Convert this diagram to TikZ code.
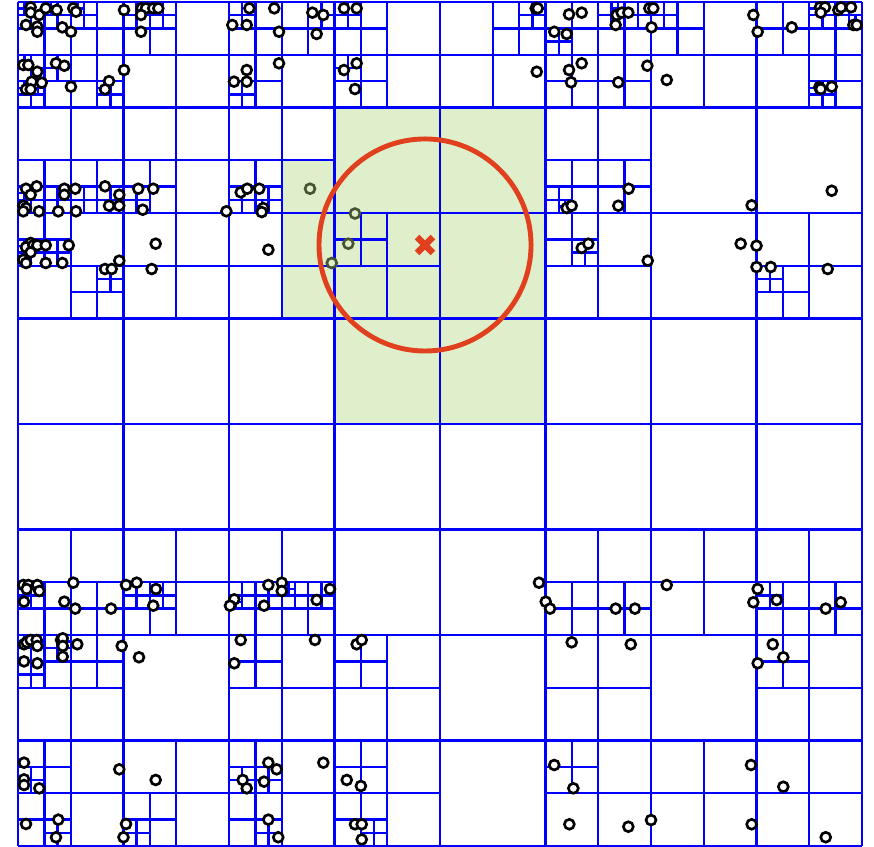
\documentclass[tikz,border=0pt]{standalone}
\definecolor{treeblue}{RGB}{0,0,255}
\definecolor{hitgreen}{RGB}{223,239,203}
\definecolor{hitolive}{RGB}{70,84,52}
\definecolor{queryred}{RGB}{224,64,29}

\begin{document}
\begin{tikzpicture}[
  x=1.4cm, y=-1.4cm,
  cellline/.style={draw=treeblue, line width=0.9pt},
  datapt/.style={draw=black, fill=white, line width=1pt},
  hitpt/.style={draw=hitolive, fill=hitgreen, line width=1pt},
  hitcell/.style={fill=hitgreen},
  queryring/.style={draw=queryred, line width=1.85pt},
  querycross/.style={draw=queryred, line width=2.5pt}
]
\useasboundingbox (-0.1706,-0.019) rectangle (8.1137,8.0);

%% ============ cells hit by the query disk ============
\fill[hitcell] (2.5,1.5) -- (3,1.5) -- (3,1) -- (5,1) -- (5,4) -- (3,4) -- (3,3) -- (2.5,3) -- cycle;

%% ============ depth-3 grid ============
\foreach \i in {0,...,8} {
  \draw[cellline] (\i,0) -- (\i,8);
  \draw[cellline] (0,\i) -- (8,\i);
}

%% ============ subdivided cells (x/y/size) ============
\foreach \x/\y/\s in {
  % row 0
  0/0/1, 1/0/1, 2/0/1, 3/0/1, 4/0/1, 5/0/1, 6/0/1, 7/0/1,
  0/0/0.5, 0.5/0/0.5, 0/0.5/0.5, 0.5/0.5/0.5, 1/0/0.5,
  2/0/0.5, 2.5/0/0.5, 2/0.5/0.5, 3/0/0.5, 3/0.5/0.5, 4.5/0/0.5,
  5/0/0.5, 5.5/0/0.5, 5/0.5/0.5, 5.5/0.5/0.5, 6/0/0.5,
  7/0/0.5, 7.5/0/0.5, 7.5/0.5/0.5,
  0/0/0.25, 0.25/0/0.25, 0.5/0/0.25, 0/0.5/0.25, 0.25/0.5/0.25, 0/0.75/0.25, 0.75/0.75/0.25,
  1/0/0.25, 1.25/0/0.25, 2/0/0.25, 2.75/0/0.25, 2/0.75/0.25, 3/0/0.25, 3/0.5/0.25,
  4.75/0/0.25, 5/0.25/0.25, 5.5/0/0.25, 5.75/0/0.25, 6/0/0.25,
  7.5/0/0.25, 7.75/0/0.25, 7.5/0.75/0.25,
  0/0/0.125, 0.25/0/0.125, 0.5/0/0.125, 0/0.5/0.125, 0/0.75/0.125, 0.125/0.75/0.125,
  0.75/0.75/0.125, 1.125/0/0.125, 1.25/0/0.125, 4.875/0/0.125, 5.625/0/0.125,
  7.5/0/0.125, 7.75/0/0.125, 7.875/0.125/0.125, 7.5/0.75/0.125,
  % row 1
  0/1/1, 1/1/1, 2/1/1, 5/1/1,
  0/1.5/0.5, 0.5/1.5/0.5, 1/1.5/0.5, 2/1.5/0.5, 5/1.5/0.5, 5.5/1.5/0.5,
  0/1.75/0.25, 0.25/1.75/0.25, 0.5/1.75/0.25, 0.75/1.75/0.25, 1/1.75/0.25,
  2/1.75/0.25, 2.25/1.75/0.25, 5/1.75/0.25,
  0/1.75/0.125, 0/1.875/0.125, 0.375/1.75/0.125, 2.25/1.875/0.125, 5.125/1.875/0.125,
  % row 2
  0/2/1, 1/2/1, 2/2/1, 3/2/1, 5/2/1, 7/2/1,
  0/2/0.5, 0.5/2.5/0.5, 3/2/0.5, 5/2/0.5, 7/2.5/0.5,
  0/2.25/0.25, 0.25/2.25/0.25, 0.75/2.5/0.25, 5.25/2.25/0.25, 7/2.5/0.25,
  0/2.25/0.125, 0.125/2.25/0.125, 0/2.375/0.125,
  % row 5
  0/5/1, 1/5/1, 2/5/1, 5/5/1, 6/5/1, 7/5/1,
  0/5.5/0.5, 0.5/5.5/0.5, 1/5.5/0.5, 2/5.5/0.5, 2.5/5.5/0.5,
  5/5.5/0.5, 5.5/5.5/0.5, 7/5.5/0.5, 7.5/5.5/0.5,
  0/5.5/0.25, 1/5.5/0.25, 1.25/5.5/0.25, 2/5.5/0.25, 2.25/5.5/0.25,
  2.5/5.5/0.25, 2.75/5.5/0.25, 7/5.5/0.25,
  0/5.5/0.125, 0.125/5.5/0.125, 2/5.625/0.125, 2.5/5.5/0.125,
  % row 6
  0/6/1, 2/6/1, 3/6/1, 5/6/1, 7/6/1,
  0/6/0.5, 0.5/6/0.5, 2/6/0.5, 3/6/0.5, 7/6/0.5,
  0/6/0.25, 0.25/6/0.25, 0/6.25/0.25,
  0/6/0.125, 0.125/6/0.125, 0.375/6/0.125,
  % row 7
  0/7/1, 1/7/1, 2/7/1, 3/7/1, 5/7/1, 6/7/1, 7/7/1,
  0/7/0.5, 0/7.5/0.5, 1/7.5/0.5, 2/7/0.5, 2/7.5/0.5, 3/7/0.5, 3/7.5/0.5, 5/7/0.5,
  0/7.25/0.25, 0.25/7.75/0.25, 1/7.75/0.25, 2/7.25/0.25, 2.25/7.25/0.25,
  2.25/7.75/0.25, 3.25/7.75/0.25}
  \draw[cellline] (\x+\s/2,\y) -- ++(0,\s) (\x,\y+\s/2) -- ++(\s,0);

%% ============ data points ============
\foreach \x/\y in {
  % row 0
  0.120/0.050, 0.120/0.101, 0.202/0.123, 0.263/0.060, 0.367/0.076, 0.524/0.060,
  0.550/0.092, 0.076/0.218, 0.183/0.234, 0.183/0.282, 0.420/0.240, 0.502/0.282,
  0.050/0.597, 0.098/0.597, 0.183/0.661, 0.360/0.581, 0.439/0.604, 0.130/0.755,
  0.225/0.765, 0.076/0.828, 0.120/0.828, 0.502/0.803, 0.863/0.750, 0.825/0.828,
  1.005/0.076, 1.172/0.060, 1.213/0.060, 1.282/0.060, 1.330/0.060, 1.166/0.123,
  1.166/0.282, 1.005/0.645,
  2.193/0.060, 2.429/0.060, 2.790/0.101, 2.894/0.123, 2.031/0.218, 2.168/0.218,
  2.474/0.282, 2.831/0.303, 2.474/0.581, 2.168/0.645, 2.047/0.755, 2.168/0.755,
  3.090/0.060, 3.210/0.060, 3.210/0.581, 3.090/0.645, 3.194/0.825,
  4.907/0.060, 4.926/0.060, 4.917/0.661,
  5.223/0.117, 5.343/0.101, 5.083/0.282, 5.201/0.303, 5.675/0.123, 5.722/0.101,
  5.785/0.101, 5.665/0.218, 5.343/0.581, 5.223/0.645, 5.242/0.761, 5.690/0.761,
  5.965/0.604, 5.984/0.060,
  6.022/0.060, 6.005/0.240, 6.149/0.739, 6.970/0.123,
  7.011/0.282, 7.334/0.240, 7.602/0.050, 7.649/0.050, 7.609/0.101, 7.775/0.076,
  7.801/0.050, 7.896/0.050, 7.918/0.218, 7.950/0.218, 7.595/0.809, 7.609/0.825,
  7.713/0.803,
  % row 1
  0.076/1.770, 0.177/1.747, 0.120/1.827, 0.439/1.770, 0.543/1.770, 0.439/1.827,
  0.825/1.747, 0.960/1.827, 1.140/1.770, 1.282/1.770,
  0.050/1.931, 0.076/1.953, 0.050/1.984, 0.199/1.984, 0.382/1.984, 0.550/1.984,
  0.863/1.931, 0.960/1.931, 1.182/1.969, 1.975/1.984,
  2.111/1.804, 2.173/1.770, 2.287/1.770, 2.325/1.953, 2.310/1.991,
  5.201/1.953, 5.248/1.931, 5.690/1.931, 5.788/1.770, 6.954/1.927, 7.713/1.789,
  % row 2
  0.120/2.284, 0.076/2.325, 0.145/2.306, 0.183/2.306, 0.263/2.306, 0.120/2.373,
  0.481/2.306, 0.050/2.443, 0.076/2.474, 0.263/2.474, 0.420/2.474,
  0.960/2.452, 0.825/2.531, 0.888/2.531, 1.305/2.291, 1.267/2.531, 2.373/2.348,
  5.343/2.332, 5.406/2.291, 5.969/2.452, 6.850/2.291, 7.000/2.310, 7.000/2.512,
  7.135/2.512, 7.675/2.531,
  % row 5
  0.050/5.526, 0.098/5.526, 0.082/5.564, 0.183/5.526, 0.202/5.583, 0.057/5.684,
  0.439/5.684, 0.524/5.504, 0.543/5.750, 0.882/5.750,
  1.024/5.526, 1.125/5.504, 1.308/5.564, 1.282/5.722,
  2.373/5.526, 2.500/5.504, 2.500/5.583, 2.957/5.564, 2.050/5.662, 2.009/5.722,
  2.332/5.722, 2.831/5.668,
  4.938/5.504, 5.002/5.684, 5.043/5.750, 5.665/5.750, 5.848/5.750,
  6.149/5.526, 6.970/5.690, 7.011/5.564, 7.191/5.668, 7.656/5.750, 7.798/5.690,
  % row 6
  0.057/6.088, 0.082/6.069, 0.120/6.047, 0.177/6.047, 0.183/6.104, 0.057/6.250,
  0.183/6.268, 0.408/6.047, 0.424/6.031, 0.424/6.104, 0.424/6.205, 0.562/6.088,
  0.983/6.104, 1.147/6.211,
  2.111/6.047, 2.050/6.268, 2.815/6.047, 3.210/6.088, 3.258/6.047,
  5.248/6.069, 5.808/6.088, 7.154/6.088, 7.254/6.211, 7.011/6.268,
  % row 7
  0.057/7.210, 0.057/7.368, 0.057/7.422, 0.202/7.453, 0.960/7.273, 0.076/7.791,
  0.382/7.750, 0.360/7.917, 1.305/7.374, 1.024/7.791, 1.000/7.917,
  2.373/7.210, 2.452/7.273, 2.894/7.210, 2.130/7.374, 2.168/7.453, 2.332/7.390,
  2.373/7.750, 2.467/7.917,
  3.116/7.374, 3.250/7.431, 3.194/7.794, 3.258/7.794, 3.258/7.938,
  5.083/7.232, 5.264/7.453, 5.226/7.794, 5.785/7.817, 6.000/7.754,
  6.948/7.232, 6.954/7.794, 7.254/7.438, 7.656/7.917}
  \draw[datapt] (\x,\y) circle[radius=0.047];

%% points that fall in the hit cells
\foreach \x/\y in {2.768/1.770, 3.194/2.005, 3.131/2.291, 2.974/2.474}
  \draw[hitpt] (\x,\y) circle[radius=0.047];

%% ============ query disk and its centre ============
\coordinate (query) at (3.858,2.303);
\draw[queryring] (query) circle[radius=1.005];
\draw[querycross] (query) ++(-0.075,-0.075) -- ++(0.15,0.15)
                  (query) ++(-0.075,0.075) -- ++(0.15,-0.15);

\end{tikzpicture}
\end{document}
